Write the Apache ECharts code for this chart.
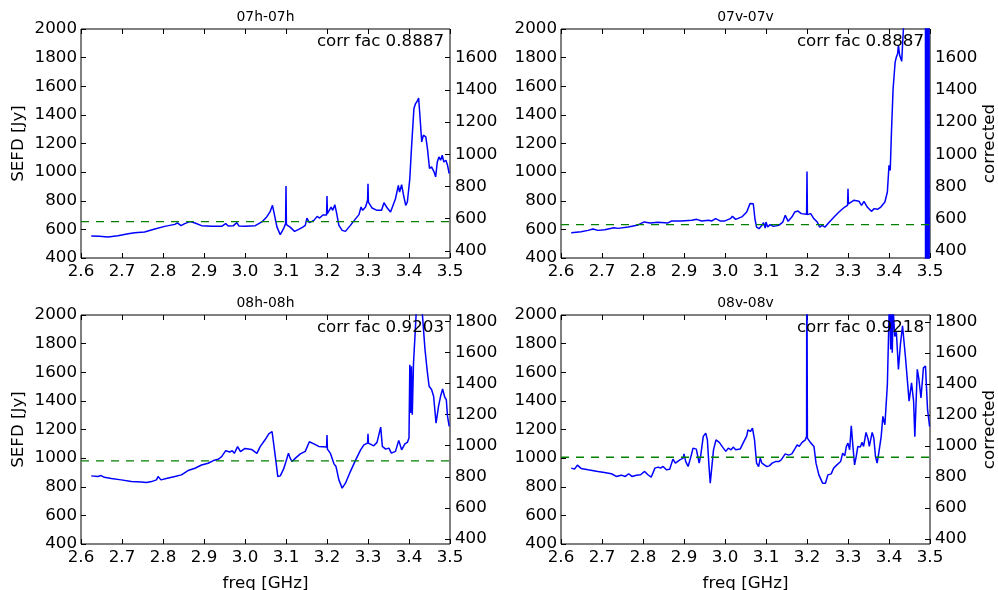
<!DOCTYPE html>
<html><head><meta charset="utf-8">
<script src="https://cdn.jsdelivr.net/npm/echarts@6/dist/echarts.min.js"></script>
<style>html,body{margin:0;padding:0;background:#fff}#c{width:998px;height:590px}</style>
</head><body><div id="c"></div>
<script>
// ---- data ----
const panelTitles = ['07h-07h', '07v-07v', '08h-08h', '08v-08v'];
const corrFac = [0.8887, 0.8887, 0.9203, 0.9218];
const meanLevel = [654, 633, 981, 1006];
const freqTicks = [2.6, 2.7, 2.8, 2.9, 3.0, 3.1, 3.2, 3.3, 3.4, 3.5];
const sefdTicks = [400, 600, 800, 1000, 1200, 1400, 1600, 1800, 2000];
const rightTicks07 = [400, 600, 800, 1000, 1200, 1400, 1600];
const rightTicks08 = [400, 600, 800, 1000, 1200, 1400, 1600, 1800];

const sefd07h = [[2.625,554],[2.645,552],[2.666,547],[2.69,556],[2.715,570],[2.731,577],[2.755,582],[2.78,603],[2.804,621],[2.829,635],[2.835,645],[2.844,626],[2.853,640],[2.866,654],[2.878,645],[2.894,626],[2.919,621],[2.943,621],[2.953,640],[2.959,624],[2.972,626],[2.98,647],[2.985,624],[3.0,621],[3.025,626],[3.041,652],[3.053,687],[3.061,722],[3.067,768],[3.072,700],[3.078,616],[3.086,563],[3.094,605],[3.099,640],[3.1,903],[3.101,633],[3.11,616],[3.121,586],[3.131,600],[3.141,616],[3.147,628],[3.151,679],[3.157,647],[3.168,663],[3.176,691],[3.182,679],[3.19,700],[3.199,700],[3.2,833],[3.201,710],[3.21,756],[3.214,733],[3.219,772],[3.223,721],[3.229,628],[3.237,593],[3.245,586],[3.257,628],[3.27,675],[3.278,703],[3.283,756],[3.287,733],[3.294,756],[3.299,803],[3.3,919],[3.301,791],[3.31,749],[3.322,733],[3.333,733],[3.339,786],[3.347,749],[3.355,721],[3.359,733],[3.367,814],[3.374,907],[3.377,861],[3.382,912],[3.386,849],[3.392,768],[3.396,791],[3.402,955],[3.406,1164],[3.412,1444],[3.416,1479],[3.42,1495],[3.4235,1518],[3.426,1420],[3.431,1211],[3.435,1258],[3.441,1246],[3.445,1164],[3.45,1025],[3.455,1037],[3.461,1002],[3.465,967],[3.469,1071],[3.473,1106],[3.477,1083],[3.481,1118],[3.485,1071],[3.49,1083],[3.494,1048],[3.498,990]];

const sefd07v = [[2.625,577],[2.649,584],[2.666,593],[2.678,603],[2.69,593],[2.707,598],[2.729,612],[2.739,607],[2.764,617],[2.788,631],[2.803,652],[2.817,645],[2.837,649],[2.861,645],[2.87,659],[2.894,659],[2.919,663],[2.931,670],[2.943,659],[2.96,663],[2.968,659],[2.977,675],[2.988,659],[3.0,659],[3.013,675],[3.018,691],[3.026,670],[3.041,687],[3.053,722],[3.061,780],[3.065,791],[3.069,779],[3.073,674],[3.077,616],[3.083,605],[3.09,628],[3.094,647],[3.098,609],[3.1,651],[3.104,616],[3.11,633],[3.118,621],[3.131,628],[3.141,651],[3.147,698],[3.154,656],[3.163,686],[3.17,721],[3.178,728],[3.186,710],[3.199,705],[3.2,1005],[3.201,703],[3.209,710],[3.217,674],[3.225,651],[3.231,616],[3.237,628],[3.244,616],[3.253,647],[3.266,686],[3.278,721],[3.292,756],[3.299,768],[3.3,884],[3.301,779],[3.314,803],[3.327,796],[3.333,768],[3.339,796],[3.347,756],[3.357,726],[3.364,745],[3.372,740],[3.38,756],[3.39,791],[3.396,861],[3.4,1047],[3.403,1012],[3.406,1280],[3.41,1583],[3.415,1769],[3.418,1804],[3.421,1827],[3.423,1886],[3.426,1816],[3.431,1774],[3.433,1886],[3.437,2100],[3.45,2400],[3.47,2500],[3.488,2400],
[3.4888,3000],[3.4892,-500],[3.4896,3000],[3.49,-500],[3.4904,3000],[3.4908,-500],[3.4912,3000],[3.4916,-500],[3.492,3000],[3.4924,-500],[3.4928,3000],[3.4932,-500],[3.4936,3000],[3.494,-500],[3.4944,3000],[3.4948,-500],[3.4952,3000],[3.4956,-500],[3.496,3000],[3.4964,-500],[3.4968,3000],[3.4972,-500],[3.4976,3000],[3.498,-500]];

const sefd08h = [[2.625,876],[2.641,871],[2.649,878],[2.657,866],[2.674,857],[2.698,848],[2.723,836],[2.747,834],[2.76,829],[2.772,836],[2.784,848],[2.788,871],[2.795,848],[2.808,857],[2.829,871],[2.845,883],[2.861,913],[2.878,929],[2.894,952],[2.91,964],[2.923,983],[2.935,992],[2.943,1010],[2.953,1052],[2.963,1043],[2.969,1052],[2.974,1033],[2.982,1080],[2.989,1045],[3.0,1068],[3.016,1061],[3.029,1033],[3.037,1080],[3.049,1128],[3.058,1170],[3.066,1186],[3.07,1175],[3.074,1011],[3.08,871],[3.086,876],[3.094,923],[3.1,976],[3.106,1035],[3.11,1000],[3.115,976],[3.123,1000],[3.135,1030],[3.147,1047],[3.157,1114],[3.168,1100],[3.18,1082],[3.199,1077],[3.2,1161],[3.201,1063],[3.208,1035],[3.217,960],[3.222,941],[3.229,848],[3.237,790],[3.245,825],[3.257,906],[3.27,988],[3.282,1058],[3.29,1093],[3.299,1105],[3.3,1170],[3.301,1105],[3.314,1086],[3.322,1110],[3.331,1217],[3.335,1082],[3.343,1063],[3.351,1070],[3.357,1035],[3.367,1047],[3.375,1124],[3.382,1058],[3.39,1100],[3.396,1110],[3.4,1140],[3.402,1653],[3.404,1315],[3.406,1642],[3.408,1303],[3.411,1665],[3.415,1875],[3.42,2150],[3.428,2100],[3.433,1992],[3.439,1759],[3.445,1595],[3.449,1502],[3.455,1479],[3.46,1432],[3.463,1427],[3.466,1245],[3.472,1362],[3.477,1432],[3.482,1483],[3.487,1427],[3.491,1408],[3.494,1292],[3.498,1222]];

const sefd08v = [[2.625,930],[2.633,923],[2.64,951],[2.649,928],[2.666,919],[2.69,907],[2.706,900],[2.723,891],[2.735,872],[2.747,881],[2.757,872],[2.765,891],[2.773,872],[2.784,881],[2.794,884],[2.804,907],[2.812,884],[2.82,867],[2.829,930],[2.837,937],[2.843,930],[2.849,942],[2.857,919],[2.865,923],[2.873,993],[2.879,965],[2.89,988],[2.898,1000],[2.9,1030],[2.904,977],[2.91,942],[2.918,1023],[2.922,1070],[2.93,1063],[2.937,965],[2.941,1023],[2.947,1152],[2.953,1175],[2.957,1128],[2.961,942],[2.964,825],[2.968,942],[2.972,1058],[2.978,1128],[2.986,1110],[2.996,1070],[3.002,1047],[3.008,1070],[3.015,1058],[3.02,1077],[3.026,1058],[3.037,1063],[3.045,1110],[3.053,1156],[3.056,1198],[3.062,1186],[3.067,1210],[3.072,1128],[3.077,965],[3.082,941],[3.086,1000],[3.09,965],[3.096,953],[3.102,941],[3.108,946],[3.115,965],[3.123,976],[3.131,976],[3.137,988],[3.147,1030],[3.155,1021],[3.163,1030],[3.17,1063],[3.176,1093],[3.181,1082],[3.188,1110],[3.196,1128],[3.199,1152],[3.1995,2600],[3.2005,2600],[3.201,1140],[3.208,1110],[3.217,1082],[3.222,965],[3.229,883],[3.238,825],[3.245,825],[3.251,883],[3.259,890],[3.265,930],[3.273,953],[3.282,976],[3.287,1035],[3.292,1016],[3.296,1082],[3.3,1105],[3.304,1058],[3.308,1226],[3.312,1082],[3.316,953],[3.32,1011],[3.324,1082],[3.33,1077],[3.334,1110],[3.338,1082],[3.344,1180],[3.349,1133],[3.352,1082],[3.359,1180],[3.363,1140],[3.367,1011],[3.371,965],[3.375,1035],[3.381,1152],[3.385,1292],[3.39,1233],[3.396,1513],[3.4,1992],[3.402,2100],[3.404,1759],[3.406,2100],[3.408,1736],[3.41,2050],[3.414,1850],[3.418,1880],[3.423,1620],[3.428,1800],[3.433,1925],[3.44,1710],[3.449,1398],[3.455,1526],[3.46,1398],[3.463,1150],[3.469,1620],[3.473,1550],[3.478,1420],[3.484,1631],[3.489,1643],[3.494,1340],[3.499,1221]];

const panelData = [sefd07h, sefd07v, sefd08h, sefd08v];
const panelRightTicks = [rightTicks07, rightTicks07, rightTicks08, rightTicks08];

// ---- layout ----
const FONT = 'DejaVu Sans';
const grids = [
  {left: 81, top: 29, width: 369, height: 229},
  {left: 561, top: 29, width: 369, height: 229},
  {left: 81, top: 315, width: 369, height: 229},
  {left: 561, top: 315, width: 369, height: 229}
];
const tickStyle = {inside: true, length: 5, lineStyle: {color: '#000', width: 1}};
const lblStyle = {color: '#000', fontSize: 16.7, fontFamily: FONT};
const nameStyle = {color: '#000', fontSize: 16.7, fontFamily: FONT};
const plain = v => String(Math.round(v));

const xAxes = [], yAxes = [], series = [], graphics = [];
grids.forEach((g, i) => {
  const isBottom = i >= 2, isLeft = (i % 2 === 0);
  xAxes.push({
    gridIndex: i, type: 'value', position: 'bottom', min: freqTicks[0], max: freqTicks[freqTicks.length - 1], interval: 0.1,
    axisLine: {show: false}, axisTick: tickStyle, splitLine: {show: false},
    axisLabel: Object.assign({margin: 5, formatter: v => v.toFixed(1), showMinLabel: true, showMaxLabel: true}, lblStyle),
    name: isBottom ? 'freq [GHz]' : '', nameLocation: 'middle', nameGap: 31, nameTextStyle: nameStyle
  });
  xAxes.push({
    gridIndex: i, type: 'value', position: 'top', min: freqTicks[0], max: freqTicks[freqTicks.length - 1], interval: 0.1,
    axisLine: {show: false}, axisTick: tickStyle, splitLine: {show: false}, axisLabel: {show: false}
  });
  yAxes.push({
    gridIndex: i, type: 'value', position: 'left', min: sefdTicks[0], max: sefdTicks[sefdTicks.length - 1], interval: 200,
    axisLine: {show: false}, axisTick: tickStyle, splitLine: {show: false},
    axisLabel: Object.assign({margin: 4, formatter: plain, showMinLabel: true, showMaxLabel: true}, lblStyle),
    name: isLeft ? 'SEFD [Jy]' : '', nameLocation: 'middle', nameRotate: 90, nameGap: 53.5, nameTextStyle: nameStyle
  });
  const rt = panelRightTicks[i];
  yAxes.push({
    gridIndex: i, type: 'value', position: 'right', min: sefdTicks[0] * corrFac[i], max: sefdTicks[sefdTicks.length - 1] * corrFac[i],
    axisLine: {show: false}, splitLine: {show: false},
    axisTick: Object.assign({customValues: rt}, tickStyle),
    axisLabel: Object.assign({margin: 5, customValues: rt, formatter: plain}, lblStyle),
    name: isLeft ? '' : 'corrected', nameLocation: 'middle', nameRotate: 90, nameGap: 51, nameTextStyle: nameStyle
  });
  series.push({
    type: 'line', xAxisIndex: 2 * i, yAxisIndex: 2 * i, data: panelData[i],
    symbol: 'none', showSymbol: false, clip: true, smooth: false,
    lineStyle: {color: '#0000ff', width: 1.5}, itemStyle: {color: '#0000ff'}, z: 2
  });
  series.push({
    type: 'line', xAxisIndex: 2 * i, yAxisIndex: 2 * i,
    data: [[freqTicks[0], meanLevel[i]], [freqTicks[freqTicks.length - 1], meanLevel[i]]],
    symbol: 'none', showSymbol: false, clip: true,
    lineStyle: {color: '#008000', width: 1.3, type: [8, 7]}, itemStyle: {color: '#008000'}, z: 3
  });
  const cx = g.left + g.width / 2;
  graphics.push({
    type: 'text', x: cx, y: g.top - 12, z: 10,
    style: {text: panelTitles[i], fill: '#000', fontSize: 13.9, fontFamily: FONT, textAlign: 'center', textVerticalAlign: 'middle'}
  });
  graphics.push({
    type: 'text', x: g.left + g.width - 6, y: g.top + 13, z: 10,
    style: {text: 'corr fac ' + corrFac[i].toFixed(4), fill: '#000', fontSize: 16.7, fontFamily: FONT, textAlign: 'right', textVerticalAlign: 'middle'}
  });
});

const chart = echarts.init(document.getElementById('c'), null, {renderer: 'canvas'});
chart.setOption({
  animation: false,
  backgroundColor: '#fff',
  grid: grids.map(g => Object.assign({show: true, borderColor: '#000', borderWidth: 1, backgroundColor: 'transparent', containLabel: false, outerBoundsMode: 'none'}, g)),
  xAxis: xAxes,
  yAxis: yAxes,
  series: series,
  graphic: graphics
});
</script></body></html>
